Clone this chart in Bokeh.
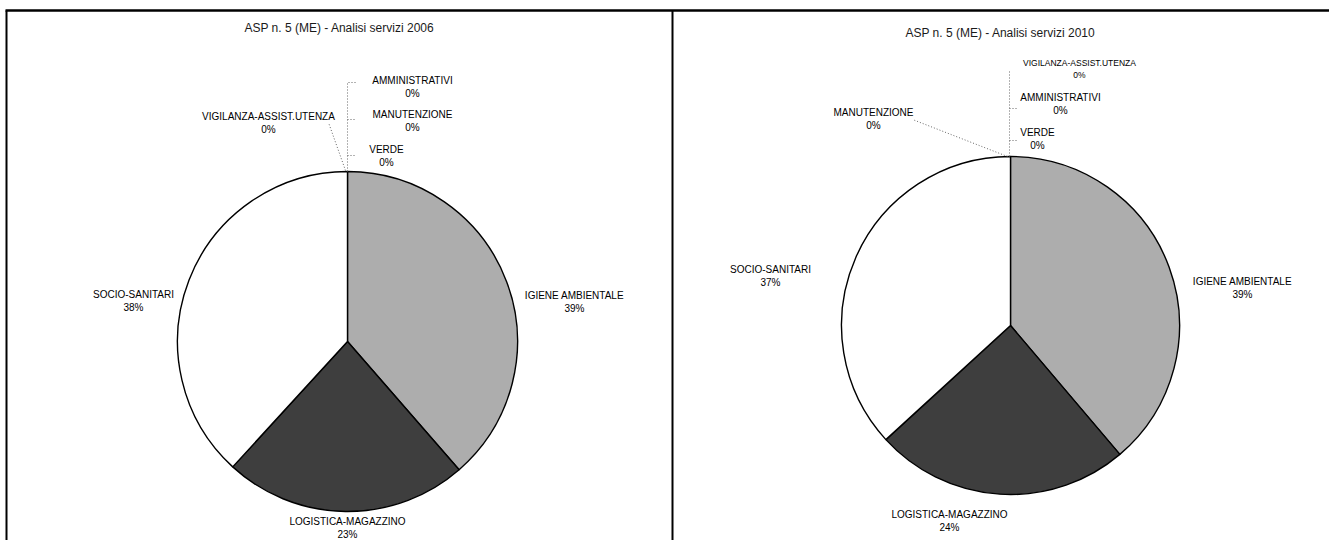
import math
from bokeh.plotting import figure
from bokeh.models import Range1d, ColumnDataSource
from bokeh.core.properties import value
from bokeh.embed import file_html
from bokeh.resources import INLINE

# ---------------- data ----------------
categories = ["IGIENE AMBIENTALE", "LOGISTICA-MAGAZZINO", "SOCIO-SANITARI",
              "VERDE", "MANUTENZIONE", "AMMINISTRATIVI", "VIGILANZA-ASSIST.UTENZA"]
values_2006 = [38.6, 23.2, 38.2, 0.0, 0.0, 0.0, 0.0]
values_2010 = [38.8, 24.4, 36.8, 0.0, 0.0, 0.0, 0.0]
colors = ["#adadad", "#3e3e3e", "#ffffff", "#ffffff", "#ffffff", "#ffffff", "#ffffff"]
titles = ["ASP n. 5 (ME) - Analisi servizi 2006", "ASP n. 5 (ME) - Analisi servizi 2010"]

# ---------------- layout (page pixel coords) ----------------
W, H = 1329, 540
def X(px): return px
def Y(py): return H - py

FONT = value("Liberation Sans")

p = figure(width=W, height=H, output_backend="svg", toolbar_location=None,
           x_range=Range1d(0, W), y_range=Range1d(0, H),
           x_axis_location=None, y_axis_location=None, min_border=0,
           outline_line_color=None)
p.grid.visible = False

# panel frames
p.line([X(5), X(1329)], [Y(10), Y(10)], line_color="black", line_width=2.5)
p.line([X(6), X(6)], [Y(10), Y(540)], line_color="black", line_width=2)
p.line([X(672), X(672)], [Y(10), Y(540)], line_color="black", line_width=2)

panels = [
    dict(vals=values_2006, cx=347, cy=341, r=170, title=(339, 27),
         labels={
             "IGIENE AMBIENTALE": (574, 295, "10px"),
             "LOGISTICA-MAGAZZINO": (347, 521, "10px"),
             "SOCIO-SANITARI": (133, 294, "10px"),
             "VERDE": (386, 149, "10px"),
             "MANUTENZIONE": (412, 114, "10px"),
             "AMMINISTRATIVI": (412, 80, "10px"),
             "VIGILANZA-ASSIST.UTENZA": (268, 116, "10px"),
         },
         leaders=[([347, 347, 356], [171, 82, 82]),
                  ([347, 356], [119, 119]),
                  ([347, 356], [155, 155]),
                  ([345, 328], [170, 122])]),
    dict(vals=values_2010, cx=1010, cy=325, r=169, title=(1000, 32),
         labels={
             "IGIENE AMBIENTALE": (1242, 281, "10px"),
             "LOGISTICA-MAGAZZINO": (949, 514, "10px"),
             "SOCIO-SANITARI": (770, 269, "10px"),
             "VERDE": (1037, 132, "10px"),
             "MANUTENZIONE": (873, 112, "10px"),
             "AMMINISTRATIVI": (1060, 97, "10px"),
             "VIGILANZA-ASSIST.UTENZA": (1079, 62, "8.5px"),
         },
         leaders=[([1009, 1009], [156, 70]),
                  ([1009, 1017], [108, 108]),
                  ([1009, 1017], [140, 140]),
                  ([1007, 912], [156, 119])]),
]

for i, pan in enumerate(panels):
    vals = pan["vals"]
    total = sum(vals)
    cum = 0.0
    starts, ends, cols, cats = [], [], [], []
    for v, c, cat in zip(vals, colors, categories):
        s = math.pi / 2 - 2 * math.pi * cum / total
        cum += v
        e = math.pi / 2 - 2 * math.pi * cum / total
        if v > 0:  # a zero-width wedge would be drawn as a full circle
            starts.append(s); ends.append(e); cols.append(c); cats.append(cat)
    src = ColumnDataSource(dict(start=starts, end=ends, color=cols, cat=cats))
    p.wedge(x=X(pan["cx"]), y=Y(pan["cy"]), radius=pan["r"],
            start_angle="start", end_angle="end", direction="clock",
            fill_color="color", line_color="black", line_width=1.4, source=src)
    # title
    tx, ty = pan["title"]
    p.text([X(tx)], [Y(ty)], text=[titles[i]],
           text_align="center", text_baseline="middle",
           text_font=FONT, text_font_size="12px", text_color="#1a1a1a")
    # leader lines
    for xs, ys in pan["leaders"]:
        p.line([X(a) for a in xs], [Y(b) for b in ys], line_color="#666666",
               line_width=1, line_dash="1 2")
    # labels
    for cat, v in zip(categories, vals):
        lx, ly, fs = pan["labels"][cat]
        pct = f"{round(100 * v / total)}%"
        gap = 13 if fs == "10px" else 12
        p.text([X(lx)], [Y(ly)], text=[cat], text_align="center",
               text_baseline="middle", text_font=FONT, text_font_size=fs,
               text_color="#000000")
        p.text([X(lx)], [Y(ly + gap)], text=[pct], text_align="center",
               text_baseline="middle", text_font=FONT, text_font_size=fs,
               text_color="#000000")

open("out.html", "w").write(file_html(p, INLINE))
